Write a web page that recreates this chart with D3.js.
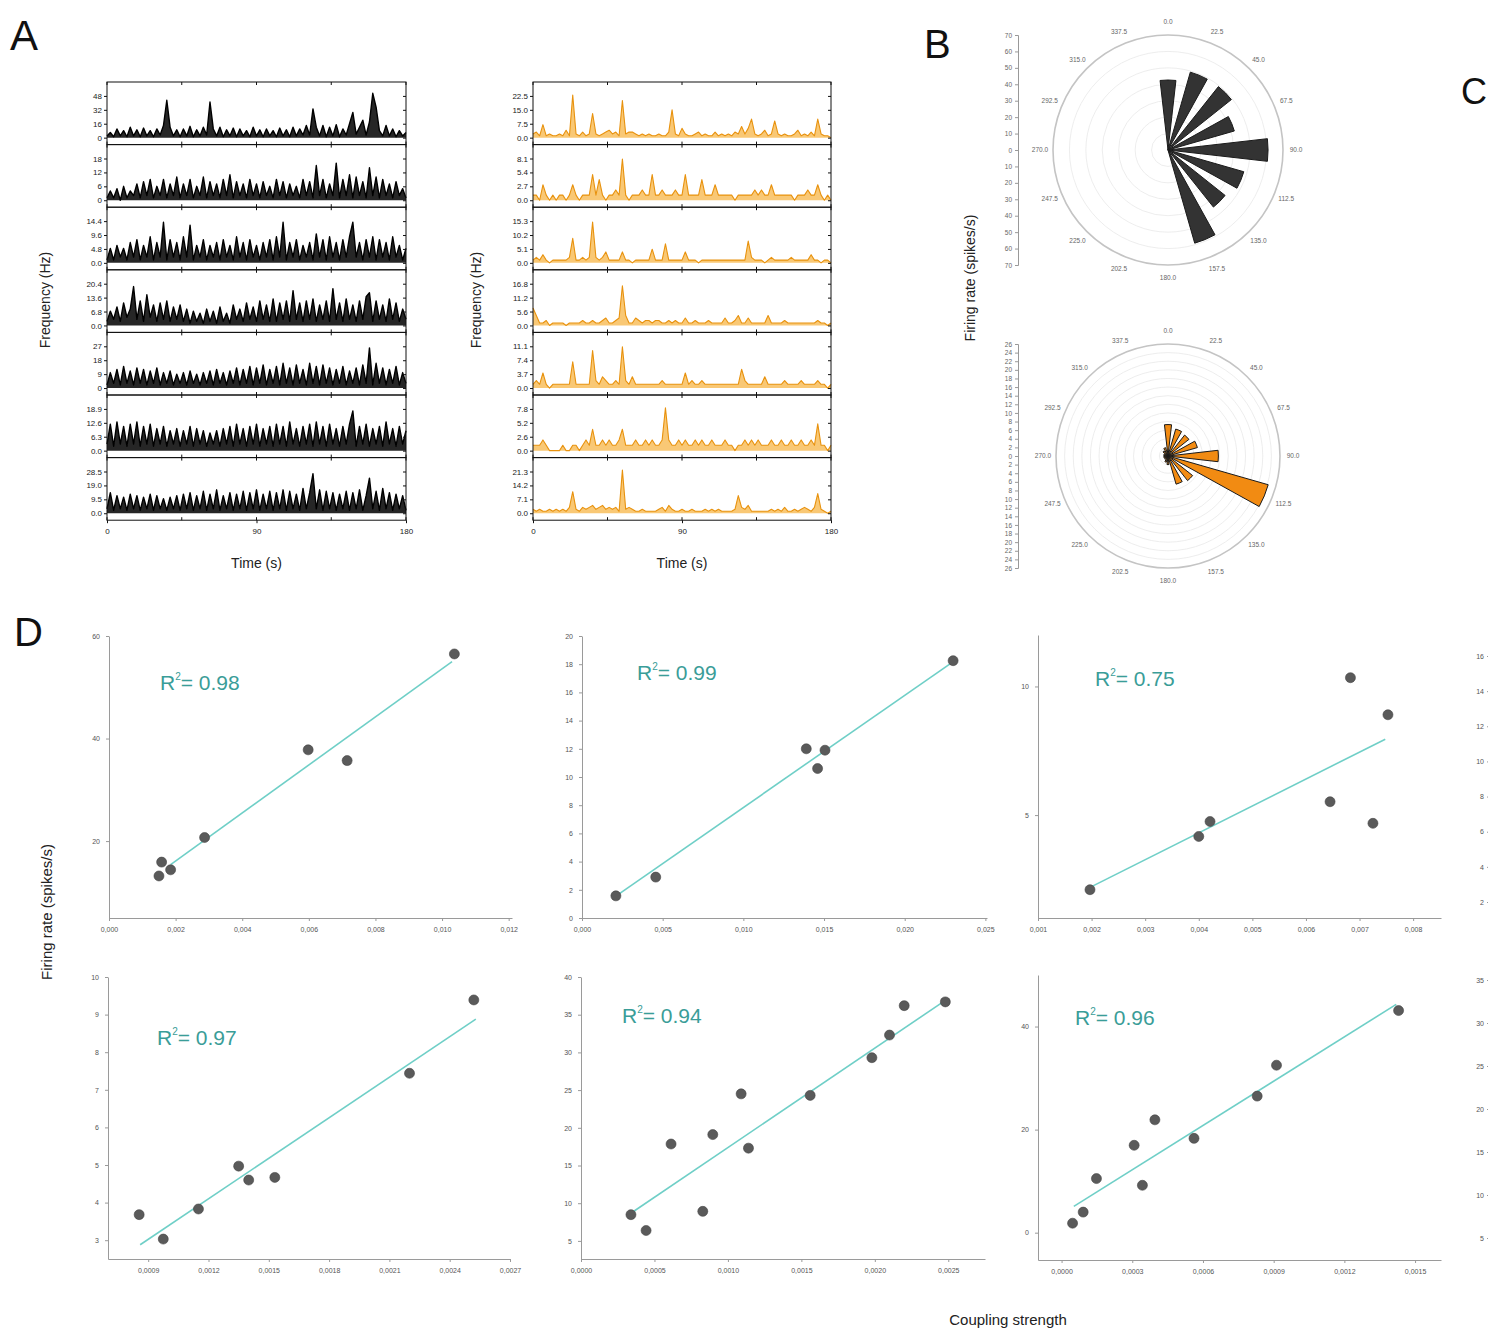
<!DOCTYPE html>
<html><head><meta charset="utf-8">
<script src="https://cdn.jsdelivr.net/npm/d3@7"></script>
<style>
body{margin:0;background:#fff}
svg{display:block}
text{font-family:Arial,"Liberation Sans",sans-serif}
</style></head>
<body><svg id="c" width="1488" height="1336"></svg>
<script>
// ===================== DATA =====================
const timeStep = 2; // seconds between samples, 0..180 s
// Panel A, left (black) traces
const black1 = [2,6,1,10,2,8,1,12,2,9, 1,11,2,8,1,10,3,14,43,12, 2,9,1,10,2,13,1,9,2,12, 3,41,10,2,12,1,9,2,11,1, 10,2,8,1,12,2,9,1,10,2, 8,1,11,2,9,1,12,2,10,3, 14,3,33,12,2,14,1,12,2,15, 1,10,3,16,29,4,12,20,3,18, 51,35,8,2,14,2,10,1,8,2, 6];
const black2 = [1,4,1,5,0,6,1,4,2,7, 1,8,2,9,1,6,2,9,1,7, 2,10,1,7,2,9,1,6,2,10, 1,8,2,7,1,9,2,11,1,8, 2,7,1,9,2,7,1,8,2,6, 1,9,2,8,1,7,2,6,1,9, 2,8,1,15,2,9,1,7,2,16, 1,9,2,11,1,10,2,8,1,14, 2,10,1,9,2,7,1,8,2,5, 1];
const black3 = [1,5,1,6,2,5,1,7,2,8, 1,6,2,9,1,7,2,14,1,8, 2,7,1,9,2,13,1,6,2,8, 1,6,2,7,1,8,2,6,1,9, 2,7,1,8,2,6,1,7,2,8, 1,9,2,14,1,7,2,8,1,6, 2,7,1,10,2,8,1,9,2,7, 1,8,2,9,14,2,7,1,8,2, 9,1,8,2,7,1,9,2,6,1, 5];
const black4 = [2,7,3,9,2,11,4,8,19,3, 12,2,15,4,10,2,11,3,12,2, 9,3,10,2,8,1,7,2,6,1, 8,2,7,1,9,2,6,1,10,3, 8,2,11,3,9,2,12,3,10,2, 13,2,11,3,12,2,17,3,11,2, 12,3,13,2,10,3,12,2,18,3, 11,2,13,3,10,2,12,3,14,16, 2,12,3,10,2,13,3,11,2,8, 3];
const black5 = [2,10,3,12,2,14,3,11,2,13, 3,12,2,11,3,13,2,10,3,11, 2,9,3,10,2,11,3,9,2,10, 3,11,2,12,3,10,2,11,3,13, 2,12,3,14,2,13,3,15,2,12, 3,14,2,16,3,13,2,15,3,12, 2,16,3,14,2,15,3,13,2,12, 3,14,2,11,3,13,2,15,3,26, 2,16,3,13,2,12,3,14,2,10, 3];
const black6 = [3,12,2,13,3,11,2,12,3,13, 2,11,3,12,2,10,3,11,2,9, 3,10,2,9,3,11,2,10,3,9, 2,8,3,9,2,10,3,11,2,12, 3,10,2,11,3,12,2,10,3,11, 2,12,3,11,2,13,3,10,2,11, 3,12,2,13,3,11,2,12,3,10, 2,11,3,12,18,2,11,3,12,2, 10,3,11,2,13,3,10,2,11,3, 9];
const black7 = [3,14,2,12,3,11,2,13,3,12, 2,11,3,13,2,12,3,10,2,11, 3,12,2,13,3,14,2,12,3,15, 2,13,3,16,2,12,3,14,2,13, 3,15,2,14,3,16,2,13,3,15, 2,14,3,16,2,15,3,13,2,17, 3,14,27,3,16,2,15,3,14,2, 13,3,15,2,14,3,16,2,12,24, 3,15,2,17,3,14,2,13,3,12, 2];
// Panel A, right (orange) traces
const orange1 = [2,3,1,7,1,2,1,1,2,1, 4,1,23,2,1,3,1,2,13,2, 1,2,3,4,2,3,1,20,2,3, 3,2,1,2,1,2,1,1,2,1, 1,3,15,2,1,5,2,1,1,2, 3,1,2,1,1,3,1,2,1,2, 1,3,2,6,2,5,10,2,1,2, 4,1,2,9,2,1,2,1,1,2, 4,1,2,1,3,1,10,2,1,1, 0];
const orange2 = [1,1,0,3,1,0,1,0,1,1, 0,1,3,1,0,1,1,1,5,1, 4,1,0,1,1,2,1,8,1,0, 1,1,1,2,1,1,5,1,1,2, 1,1,1,2,1,1,5,1,1,1, 1,4,1,1,1,3,1,1,1,1, 1,0,1,1,1,1,1,2,1,2, 1,1,3,1,1,1,1,1,1,0, 1,1,1,2,1,1,3,1,0,1, 0];
const orange3 = [1,2,1,3,1,0,1,1,1,1, 1,2,9,1,1,2,1,2,15,2, 1,2,4,1,1,1,1,4,1,1, 0,1,1,1,1,1,5,1,1,1, 7,1,1,1,1,1,4,1,1,1, 0,1,1,1,1,1,1,1,1,1, 1,1,1,1,1,8,2,1,1,1, 0,1,2,1,1,1,1,1,2,1, 1,1,1,1,3,1,1,0,1,1, 0];
const orange4 = [7,4,1,1,2,0,1,1,1,1, 0,1,1,1,1,2,1,1,2,1, 1,2,3,1,1,2,3,16,4,1, 1,3,2,1,2,2,1,2,2,1, 1,2,1,2,1,1,3,1,1,2, 1,1,1,2,1,1,1,1,3,1, 1,2,4,1,1,3,1,1,1,1, 1,4,1,1,1,1,2,1,1,1, 1,1,1,1,1,1,2,1,1,0, 1];
const orange5 = [1,2,1,4,1,0,1,1,1,1, 1,1,7,1,1,1,1,1,10,2, 1,3,2,1,1,2,1,11,2,1, 3,1,1,1,1,1,1,1,1,2, 1,1,1,1,1,1,4,1,2,1, 1,2,1,1,1,1,1,1,1,1, 1,1,1,5,2,1,1,1,1,1, 3,1,1,1,1,1,2,1,1,1, 1,2,1,1,1,1,2,1,1,0, 1];
const orange6 = [1,1,1,2,1,0,0,0,0,1, 0,0,1,1,0,1,2,1,4,1, 1,2,1,2,1,1,2,4,1,1, 1,2,1,1,2,1,2,1,1,2, 8,2,1,1,2,1,2,1,1,2, 1,2,1,1,2,1,1,1,2,1, 1,0,1,1,2,1,2,1,2,1, 1,1,2,1,1,2,1,1,2,1, 1,2,1,1,2,1,5,1,1,0, 1];
const orange7 = [2,1,2,1,1,2,1,2,1,2, 1,3,11,2,1,3,2,3,4,2, 3,4,2,3,2,3,1,22,2,3, 2,1,1,2,1,1,1,1,2,3, 1,4,2,1,1,2,1,1,2,1, 1,1,2,1,2,1,2,1,1,1, 1,2,9,3,2,4,1,1,1,1, 1,1,2,1,2,1,3,1,1,2, 1,2,3,2,1,3,10,2,1,0, 1];
const blackTicks = [[0,16,32,48],[0,6,12,18],[0,4.8,9.6,14.4],[0,6.8,13.6,20.4],[0,9,18,27],[0,6.3,12.6,18.9],[0,9.5,19,28.5]];
const blackTickLabels = [["0","16","32","48"],["0","6","12","18"],["0.0","4.8","9.6","14.4"],["0.0","6.8","13.6","20.4"],["0","9","18","27"],["0.0","6.3","12.6","18.9"],["0.0","9.5","19.0","28.5"]];
const orangeTicks = [[0,7.5,15,22.5],[0,2.7,5.4,8.1],[0,5.1,10.2,15.3],[0,5.6,11.2,16.8],[0,3.7,7.4,11.1],[0,2.6,5.2,7.8],[0,7.1,14.2,21.3]];
const orangeTickLabels = [["0.0","7.5","15.0","22.5"],["0.0","2.7","5.4","8.1"],["0.0","5.1","10.2","15.3"],["0.0","5.6","11.2","16.8"],["0.0","3.7","7.4","11.1"],["0.0","2.6","5.2","7.8"],["0.0","7.1","14.2","21.3"]];
const timeTicks = [0,90,180];

// Panel B, polar histograms (bin centres in degrees, firing rate)
const polarAngles = [0,22.5,45,67.5,90,112.5,135,157.5,180,202.5,225,247.5,270,292.5,315,337.5];
const polarAngleLabels = ["0.0","22.5","45.0","67.5","90.0","112.5","135.0","157.5","180.0","202.5","225.0","247.5","270.0","292.5","315.0","337.5"];
const polarTopValues = [42.6,49.3,49.3,42,60.9,48,44.4,59,0,0,0,0,0,0,0,0];
const polarBottomValues = [7.3,6.5,6.2,7.1,11.7,24.2,7.3,6.8,2,1.5,1,1,1,1,1.5,2];

// Panel D scatter plots: coupling strength (x) vs firing rate (y)
const d1x = [0.0015,0.00158,0.00185,0.00287,0.00598,0.00715,0.01037];
const d1y = [13.2,15.9,14.4,20.7,37.8,35.7,56.5];
const d1fit = [0.00185,15.4,0.0103,55.0];
const d2x = [0.0021,0.00457,0.0139,0.01506,0.0146,0.0230];
const d2y = [1.57,2.9,12.0,11.9,10.6,18.25];
const d2fit = [0.0021,1.55,0.0229,18.1];
const d3x = [0.00197,0.004,0.00421,0.00645,0.00683,0.00725,0.00753];
const d3y = [2.1,4.17,4.75,5.52,10.34,4.68,8.9];
const d3fit = [0.00198,2.2,0.00748,7.95];
const d4x = [0.000855,0.000975,0.00115,0.00135,0.0014,0.00153,0.0022,0.00252];
const d4y = [3.68,3.03,3.83,4.97,4.6,4.67,7.44,9.39];
const d4fit = [0.00086,2.88,0.00253,8.88];
const d5x = [0.00034,0.000443,0.000613,0.000829,0.000897,0.00109,0.00114,0.00156,0.00198,0.0021,0.0022,0.00248];
const d5y = [8.48,6.38,17.85,8.92,19.1,24.5,17.3,24.3,29.3,32.3,36.2,36.7];
const d5fit = [0.000357,8.9,0.00248,36.9];
const d6x = [0.0000467,0.0000917,0.000148,0.000308,0.000343,0.000396,0.000562,0.00083,0.000912,0.00143];
const d6y = [1.84,3.99,10.5,16.96,9.2,21.9,18.3,26.5,32.5,43.1];
const d6fit = [0.000052,5.1,0.00142,44.3];
const r2Labels = ["0.98","0.99","0.75","0.97","0.94","0.96"];
const d1xTicks = [0,0.002,0.004,0.006,0.008,0.010,0.012], d1yTicks = [20,40,60];
const d2xTicks = [0,0.005,0.010,0.015,0.020,0.025], d2yTicks = [0,2,4,6,8,10,12,14,16,18,20];
const d3xTicks = [0.001,0.002,0.003,0.004,0.005,0.006,0.007,0.008], d3yTicks = [5,10];
const d4xTicks = [0.0009,0.0012,0.0015,0.0018,0.0021,0.0024,0.0027], d4yTicks = [3,4,5,6,7,8,9,10];
const d5xTicks = [0,0.0005,0.0010,0.0015,0.0020,0.0025], d5yTicks = [5,10,15,20,25,30,35,40];
const d6xTicks = [0,0.0003,0.0006,0.0009,0.0012,0.0015], d6yTicks = [0,20,40];
// partially visible fourth column (cut at the right edge)
const cut1Ticks = [2,4,6,8,10,12,14,16];
const cut2Ticks = [5,10,15,20,25,30,35];

// ===================== DRAWING =====================
const svg = d3.select("#c");
const FONT = 'Arial,"Liberation Sans",sans-serif';

function label(x, y, txt, size, opts = {}) {
  const t = svg.append("text").attr("x", x).attr("y", y).attr("font-size", size)
    .attr("fill", opts.fill || "#111").attr("text-anchor", opts.anchor || "start").text(txt);
  if (opts.rotate) t.attr("transform", `rotate(-90,${x},${y})`);
  return t;
}

// Panel letters
label(10, 50, "A", 42);
label(924, 58, "B", 40);
label(1461, 104, "C", 36);
label(14, 646, "D", 40);

// ---------- Panel A ----------
function drawTraces(left, right, series, ticks, tickLabels, stroke, fill, fillOp, sw) {
  const top = 82, h = 62.6;
  const x = d3.scaleLinear().domain([0, 180]).range([left, right]);
  series.forEach((vals, i) => {
    const y0 = top + i * h, y1 = y0 + h;
    const step = ticks[i][1];
    const y = d3.scaleLinear().domain([-step * 0.5, ticks[i][3] + step]).range([y1, y0]);
    const g = svg.append("g");
    g.append("path").datum(vals)
      .attr("d", d3.area().x((d, j) => x(j * timeStep)).y0(y(0)).y1(d => y(d)))
      .attr("fill", fill).attr("fill-opacity", fillOp);
    g.append("path").datum(vals)
      .attr("d", d3.line().x((d, j) => x(j * timeStep)).y(d => y(d)))
      .attr("fill", "none").attr("stroke", stroke).attr("stroke-width", sw).attr("stroke-linejoin", "round");
    g.append("rect").attr("x", left).attr("y", y0).attr("width", right - left).attr("height", h)
      .attr("fill", "none").attr("stroke", "#111").attr("stroke-width", 1);
    const ax = g.append("g").attr("transform", `translate(${left},0)`)
      .call(d3.axisLeft(y).tickValues(ticks[i]).tickFormat((d, k) => tickLabels[i][k]).tickSize(3).tickPadding(2));
    ax.select(".domain").remove();
    ax.selectAll("text").attr("font-size", 8).attr("fill", "#222").attr("font-family", FONT);
    ax.selectAll("line").attr("stroke", "#111");
    const axr = g.append("g").attr("transform", `translate(${right},0)`)
      .call(d3.axisRight(y).tickValues(ticks[i]).tickFormat("").tickSize(-3));
    axr.select(".domain").remove();
    axr.selectAll("line").attr("stroke", "#111");
    [0, 45, 90, 135, 180].forEach(t => {
      g.append("line").attr("x1", x(t)).attr("x2", x(t)).attr("y1", y0).attr("y2", y0 + 3).attr("stroke", "#111");
      g.append("line").attr("x1", x(t)).attr("x2", x(t)).attr("y1", y1).attr("y2", y1 - 3).attr("stroke", "#111");
    });
  });
  const bottom = top + 7 * h;
  const axb = svg.append("g").attr("transform", `translate(0,${bottom})`)
    .call(d3.axisBottom(x).tickValues(timeTicks).tickFormat(d3.format("d")).tickSize(3).tickPadding(5));
  axb.select(".domain").remove();
  axb.selectAll("text").attr("font-size", 8).attr("fill", "#222").attr("font-family", FONT);
  axb.selectAll("line").attr("stroke", "#111");
  label((left + right) / 2, 568, "Time (s)", 14, {anchor: "middle", fill: "#222"});
}
drawTraces(107, 406, [black1, black2, black3, black4, black5, black6, black7], blackTicks, blackTickLabels, "#000", "#000", 0.85, 1.4);
drawTraces(533, 831, [orange1, orange2, orange3, orange4, orange5, orange6, orange7], orangeTicks, orangeTickLabels, "#e8920e", "#f7b547", 0.75, 1.1);
label(50, 300, "Frequency (Hz)", 14, {anchor: "middle", rotate: true, fill: "#222"});
label(481, 300, "Frequency (Hz)", 14, {anchor: "middle", rotate: true, fill: "#222"});

// ---------- Panel B ----------
function drawPolar(cx, cy, R, maxV, ringStep, values, fill, axisX) {
  const r = d3.scaleLinear().domain([0, maxV]).range([0, R]);
  const g = svg.append("g").attr("transform", `translate(${cx},${cy})`);
  d3.range(ringStep, maxV - 1e-9, ringStep).forEach(v =>
    g.append("circle").attr("r", r(v)).attr("fill", "none").attr("stroke", "#e8e8e8").attr("stroke-width", 0.8));
  g.append("circle").attr("r", R).attr("fill", "none").attr("stroke", "#c4c4c4").attr("stroke-width", 1.6);
  const data = polarAngles.map((a, i) => ({a, v: values[i]})).filter(d => d.v > 0);
  const arc = d3.arc().innerRadius(0).outerRadius(d => r(d.v))
    .startAngle(d => (d.a - 6.5) * Math.PI / 180).endAngle(d => (d.a + 6.5) * Math.PI / 180);
  g.selectAll("path.bar").data(data).join("path").attr("class", "bar")
    .attr("d", arc).attr("fill", fill).attr("stroke", "#1a1a1a").attr("stroke-width", 1);
  polarAngles.forEach((a, i) => {
    const rad = a * Math.PI / 180, rr = R + 13;
    g.append("text").attr("x", rr * Math.sin(rad)).attr("y", -rr * Math.cos(rad)).attr("dy", "0.35em")
      .attr("text-anchor", "middle").attr("font-size", 6.5).attr("fill", "#666").text(polarAngleLabels[i]);
  });
  const ys = d3.scaleLinear().domain([-maxV, maxV]).range([cy + R, cy - R]);
  const ax = svg.append("g").attr("transform", `translate(${axisX},0)`)
    .call(d3.axisLeft(ys).tickValues(d3.range(-maxV, maxV + 1e-9, ringStep)).tickFormat(d => d3.format("d")(Math.abs(d))).tickSize(3).tickPadding(3));
  ax.select(".domain").attr("stroke", "#999");
  ax.selectAll("line").attr("stroke", "#999");
  ax.selectAll("text").attr("font-size", 6.5).attr("fill", "#666").attr("font-family", FONT);
}
drawPolar(1168, 150, 115, 70, 10, polarTopValues, "#333333", 1018);
drawPolar(1168, 456, 112, 26, 2, polarBottomValues, "#f28b12", 1018);
label(975, 278, "Firing rate (spikes/s)", 14, {anchor: "middle", rotate: true, fill: "#222"});

// ---------- Panel D ----------
const comma = f => (d => f(d).replace(".", ","));
const dPlots = [
  {xs: d1x, ys: d1y, fit: d1fit, xt: d1xTicks, yt: d1yTicks, xd: [0, 0.0121], xr: [109, 512], yd: [5, 60], yr: [918, 636], xf: ".3f", tx: 160, ty: 690},
  {xs: d2x, ys: d2y, fit: d2fit, xt: d2xTicks, yt: d2yTicks, xd: [0, 0.0251], xr: [582, 987], yd: [0, 20], yr: [918, 636], xf: ".3f", tx: 637, ty: 680},
  {xs: d3x, ys: d3y, fit: d3fit, xt: d3xTicks, yt: d3yTicks, xd: [0.001, 0.00852], xr: [1038, 1441], yd: [1, 12], yr: [918, 635], xf: ".3f", tx: 1095, ty: 686},
  {xs: d4x, ys: d4y, fit: d4fit, xt: d4xTicks, yt: d4yTicks, xd: [0.0007, 0.0027], xr: [108, 510], yd: [2.5, 10], yr: [1259, 977], xf: ".4f", tx: 157, ty: 1045},
  {xs: d5x, ys: d5y, fit: d5fit, xt: d5xTicks, yt: d5yTicks, xd: [0, 0.00275], xr: [581, 985], yd: [2.6, 40], yr: [1259, 977], xf: ".4f", tx: 622, ty: 1023},
  {xs: d6x, ys: d6y, fit: d6fit, xt: d6xTicks, yt: d6yTicks, xd: [-0.0001, 0.00161], xr: [1038, 1441], yd: [-5.3, 50], yr: [1260, 975], xf: ".4f", tx: 1075, ty: 1025}
];
dPlots.forEach((p, i) => {
  const x = d3.scaleLinear().domain(p.xd).range(p.xr);
  const y = d3.scaleLinear().domain(p.yd).range(p.yr);
  const g = svg.append("g");
  const axx = g.append("g").attr("transform", `translate(0,${p.yr[0]})`)
    .call(d3.axisBottom(x).tickValues(p.xt).tickFormat(comma(d3.format(p.xf))).tickSize(3).tickSizeOuter(0).tickPadding(6));
  const axy = g.append("g").attr("transform", `translate(${p.xr[0]},0)`)
    .call(d3.axisLeft(y).tickValues(p.yt).tickFormat(d3.format("d")).tickSize(3).tickSizeOuter(0).tickPadding(6));
  [axx, axy].forEach(a => {
    a.select(".domain").attr("stroke", "#9a9a9a");
    a.selectAll("line").attr("stroke", "#9a9a9a");
    a.selectAll("text").attr("font-size", 7).attr("fill", "#555").attr("font-family", FONT);
  });
  g.append("line").attr("x1", x(p.fit[0])).attr("y1", y(p.fit[1])).attr("x2", x(p.fit[2])).attr("y2", y(p.fit[3]))
    .attr("stroke", "#6fcfc7").attr("stroke-width", 1.6);
  g.selectAll("circle").data(p.xs.map((v, k) => [v, p.ys[k]])).join("circle")
    .attr("cx", d => x(d[0])).attr("cy", d => y(d[1])).attr("r", 5)
    .attr("fill", "#5a5a5a").attr("stroke", "#444").attr("stroke-width", 0.6);
  const t = g.append("text").attr("x", p.tx).attr("y", p.ty).attr("font-size", 21).attr("fill", "#3a9d98");
  t.append("tspan").text("R");
  t.append("tspan").attr("font-size", 10).attr("dy", -10).text("2");
  t.append("tspan").attr("dy", 10).text("= " + r2Labels[i]);
});
[[cut1Ticks, [2, 16], [902, 656]], [cut2Ticks, [5, 35], [1238, 980]]].forEach(([tv, dom, rng]) => {
  const y = d3.scaleLinear().domain(dom).range(rng);
  const a = svg.append("g").attr("transform", "translate(1490,0)")
    .call(d3.axisLeft(y).tickValues(tv).tickFormat(d3.format("d")).tickSize(3).tickPadding(3));
  a.select(".domain").remove();
  a.selectAll("line").attr("stroke", "#9a9a9a");
  a.selectAll("text").attr("font-size", 7).attr("fill", "#555").attr("font-family", FONT);
});
label(52, 912, "Firing rate (spikes/s)", 15, {anchor: "middle", rotate: true, fill: "#222"});
label(1008, 1325, "Coupling strength", 15, {anchor: "middle", fill: "#222"});
</script>
</body></html>
